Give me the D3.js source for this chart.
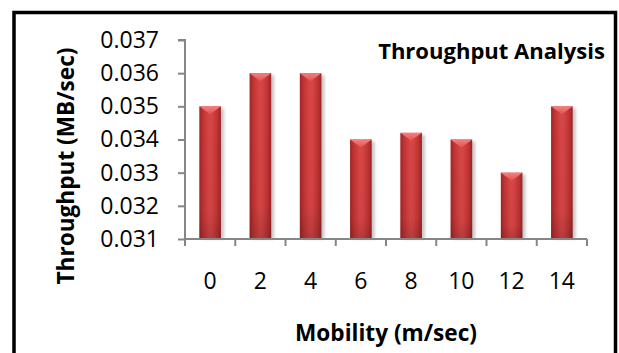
<!DOCTYPE html>
<html>
<head>
<meta charset="utf-8">
<script src="https://cdn.jsdelivr.net/npm/d3@7"></script>
<style>
  html, body { margin: 0; padding: 0; background: #fff; }
  svg { display: block; }
  text { font-family: "Open Sans", Lato, sans-serif; fill: #000; }
</style>
</head>
<body>
<svg id="chart" width="619" height="353"></svg>
<script>
// Throughput by node mobility
const mobility = ["0", "2", "4", "6", "8", "10", "12", "14"];
const throughput = [0.035, 0.036, 0.036, 0.034, 0.0342, 0.034, 0.033, 0.035];
const yTicks = [0.031, 0.032, 0.033, 0.034, 0.035, 0.036, 0.037];

const svg = d3.select("#chart");
const plot = { left: 185, right: 587, top: 40, bottom: 239 };
const font = '"Open Sans", Lato, sans-serif';

const x = d3.scaleBand().domain(mobility).range([plot.left, plot.right]).paddingInner(0.57).paddingOuter(0.285);
const y = d3.scaleLinear().domain([0.031, 0.037]).range([plot.bottom, plot.top]);

const defs = svg.append("defs");
const body = defs.append("linearGradient").attr("id", "barBody").attr("x1", 0).attr("x2", 1).attr("y1", 0).attr("y2", 0);
[["0%", "#a02426"], ["18%", "#c23434"], ["45%", "#d84646"], ["60%", "#d64444"], ["85%", "#bd3232"], ["100%", "#9c2224"]]
  .forEach(([o, c]) => body.append("stop").attr("offset", o).attr("stop-color", c));
const shade = defs.append("linearGradient").attr("id", "barShade").attr("x1", 0).attr("x2", 0).attr("y1", 0).attr("y2", 1);
[["0%", "#000", 0], ["80%", "#000", 0.04], ["100%", "#000", 0.16]]
  .forEach(([o, c, a]) => shade.append("stop").attr("offset", o).attr("stop-color", c).attr("stop-opacity", a));
const cap = defs.append("linearGradient").attr("id", "barCap").attr("x1", 0).attr("x2", 0).attr("y1", 0).attr("y2", 1);
[["0%", "#f58080"], ["100%", "#de5252"]]
  .forEach(([o, c]) => cap.append("stop").attr("offset", o).attr("stop-color", c));
defs.append("filter").attr("id", "soft").attr("x", "-50%").attr("y", "-10%").attr("width", "200%").attr("height", "120%")
  .append("feGaussianBlur").attr("stdDeviation", 1.6);

// frame
svg.append("rect").attr("x", 14).attr("y", 12.5).attr("width", 601.5).attr("height", 420)
  .attr("fill", "none").attr("stroke", "#000").attr("stroke-width", 3.5);

// bars
const bars = svg.append("g");
const g = bars.selectAll("g").data(mobility.map((m, i) => ({ m, v: throughput[i] }))).join("g");
g.append("rect")
  .attr("x", d => x(d.m) + 3).attr("y", d => y(d.v) + 2)
  .attr("width", x.bandwidth()).attr("height", d => plot.bottom - y(d.v) - 2)
  .attr("fill", "#000").attr("opacity", 0.22).attr("filter", "url(#soft)");
g.append("rect")
  .attr("x", d => x(d.m)).attr("y", d => y(d.v))
  .attr("width", x.bandwidth()).attr("height", d => plot.bottom - y(d.v))
  .attr("fill", "url(#barBody)");
g.append("rect")
  .attr("x", d => x(d.m)).attr("y", d => y(d.v))
  .attr("width", x.bandwidth()).attr("height", d => plot.bottom - y(d.v))
  .attr("fill", "url(#barShade)");
g.append("path")
  .attr("d", d => {
    const x0 = x(d.m), x1 = x0 + x.bandwidth(), t = y(d.v);
    return `M${x0},${t}L${x1},${t}L${(x0 + x1) / 2},${t + 8}Z`;
  })
  .attr("fill", "url(#barCap)");

// axes
const axisColor = "#868686";
const yAxis = svg.append("g").attr("transform", `translate(${plot.left},0)`)
  .call(d3.axisLeft(y).tickValues(yTicks).tickFormat(d3.format(".3f")).tickSize(7).tickPadding(19));
const xAxis = svg.append("g").attr("transform", `translate(0,${plot.bottom})`)
  .call(d3.axisBottom(x).tickSize(0).tickPadding(34));
xAxis.selectAll(".tick line").remove();
// category boundaries on the x axis
const bounds = d3.range(mobility.length + 1).map(i => plot.left + i * x.step());
xAxis.selectAll(".bound").data(bounds).join("line").attr("class", "bound")
  .attr("x1", d => d).attr("x2", d => d).attr("y1", 0).attr("y2", 7);

[yAxis, xAxis].forEach(a => {
  a.selectAll("path.domain").attr("stroke", axisColor).attr("stroke-width", 2);
  a.selectAll("line").attr("stroke", axisColor).attr("stroke-width", 2);
  a.selectAll("text").style("font-family", font).style("font-size", "23px").attr("fill", "#000");
});
yAxis.select("path.domain").attr("d", `M-7,${plot.top}H0V${plot.bottom}`);
xAxis.select("path.domain").attr("d", `M${plot.left},0H${plot.right}`);

// scale a label's font so that it spans the given width
function fitWidth(sel, width) {
  const w = sel.node().getComputedTextLength();
  const size = parseFloat(sel.style("font-size"));
  sel.style("font-size", (size * width / w) + "px");
  return sel;
}

// titles
fitWidth(svg.append("text").attr("x", 605).attr("y", 59).attr("text-anchor", "end")
  .style("font-weight", "bold").style("font-size", "20px").text("Throughput Analysis"), 227);
fitWidth(svg.append("text").attr("x", 386).attr("y", 341).attr("text-anchor", "middle")
  .style("font-weight", "bold").style("font-size", "20px").text("Mobility (m/sec)"), 182);
fitWidth(svg.append("text").attr("transform", "translate(74,166) rotate(-90)").attr("text-anchor", "middle")
  .style("font-weight", "bold").style("font-size", "20px").text("Throughput (MB/sec)"), 237);
</script>
</body>
</html>
